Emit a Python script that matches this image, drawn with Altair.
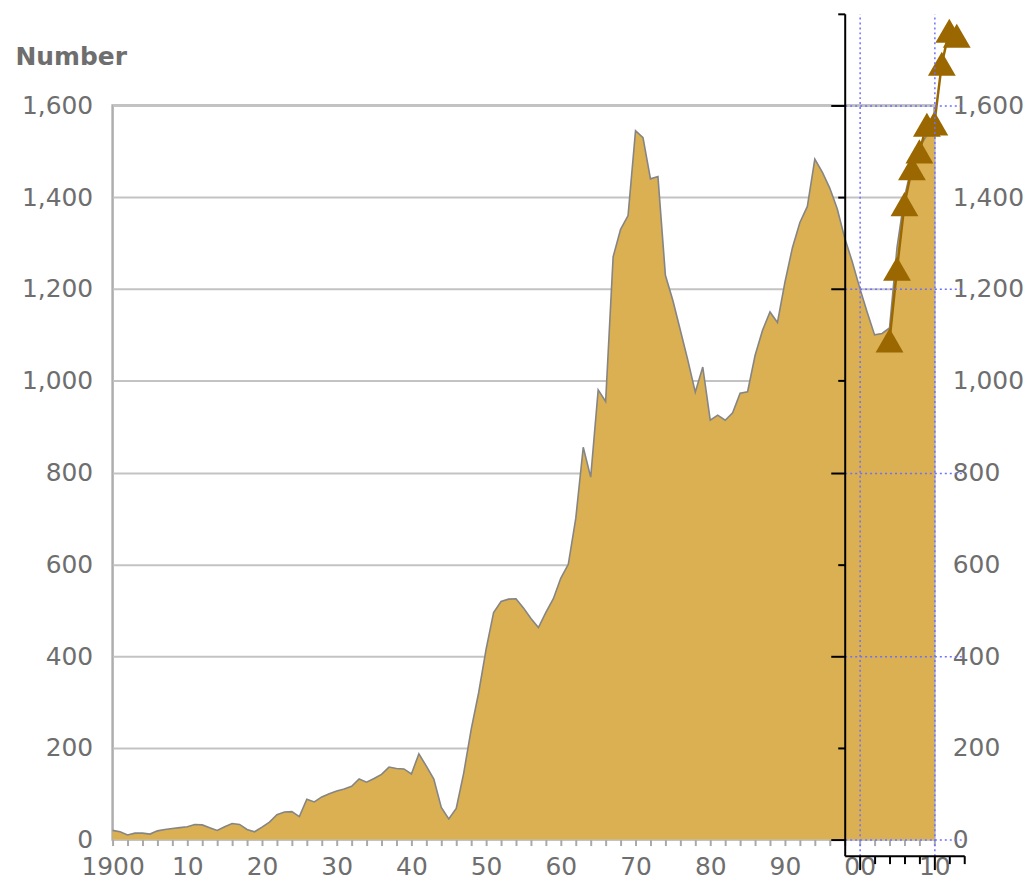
import altair as alt
import pandas as pd

# ---- data ----
years = list(range(1900, 2011))
counts = [
    20, 17, 10, 14, 14, 12, 19, 22, 24, 26,          # 1900-1909
    28, 33, 32, 26, 20, 28, 35, 33, 22, 17,          # 1910-1919
    27, 38, 54, 60, 61, 50, 88, 82, 93, 100,         # 1920-1929
    106, 110, 116, 132, 125, 133, 142, 158, 155, 154,  # 1930-1939
    143, 187, 160, 132, 70, 45, 68, 145, 240, 320,   # 1940-1949
    415, 495, 519, 524, 525, 505, 482, 462, 495, 525,  # 1950-1959
    570, 600, 700, 855, 790, 980, 955, 1270, 1330, 1360,  # 1960-1969
    1545, 1530, 1440, 1445, 1230, 1175, 1110, 1045, 975, 1030,  # 1970-1979
    914, 925, 914, 930, 973, 976, 1055, 1110, 1150, 1127,  # 1980-1989
    1215, 1290, 1345, 1380, 1483, 1455, 1420, 1375, 1311, 1260,  # 1990-1999
    1203, 1150, 1100, 1103, 1115, 1290, 1400, 1470, 1510, 1535,  # 2000-2009
    1540,                                            # 2010
]
tri_years = [2004, 2005, 2006, 2007, 2008, 2009, 2010, 2011, 2012, 2013]
tri_counts = [1088, 1244, 1385, 1463, 1500, 1558, 1561, 1691, 1763, 1752]

y_ticks = list(range(0, 1601, 200))
x_ticks = list(range(1900, 2011, 2))
ov_x_ticks = list(range(2000, 2015, 2))
ov_x_grid = [2000, 2010]
ov_y_ticks = list(range(0, 1801, 200))

# ---- layout ----
W, H = 825, 737
px_year = W / (2010 - 1900)
px_unit = H / 1600
ov_x_dom = [1998, 2014]
ov_y_dom = [-35, 1800]
ov_x_rng = [(v - 1900) * px_year for v in ov_x_dom]
ov_y_rng = [H - v * px_unit for v in ov_y_dom]

FONT = "DejaVu Sans"
GRAY = "#6e6e6e"
GOLD = "#dab052"
BROWN = "#9a6700"
GRID_BLUE = "#6f6fff"
FS = 25

main_df = pd.DataFrame({"year": years, "count": counts})
tri_df = pd.DataFrame({"year": tri_years, "count": tri_counts})

label_expr = ("datum.value % 10 == 0 ? (datum.value == 1900 ? '1900' : "
              "format(datum.value % 100, '02d')) : ''")

x_main = alt.X(
    "year:Q",
    scale=alt.Scale(domain=[1900, 2010], nice=False, zero=False),
    axis=alt.Axis(
        orient="bottom", values=x_ticks, labelExpr=label_expr, title=None,
        grid=False, domain=False, tickColor="#a9a9a9", tickWidth=2, tickSize=6,
        labelPadding=9, labelFont=FONT, labelFontSize=FS, labelColor=GRAY,
        labelOverlap=False, labelFlush=False,
    ),
)
y_main = alt.Y(
    "count:Q",
    scale=alt.Scale(domain=[0, 1600], nice=False, zero=False),
    axis=alt.Axis(
        orient="left", values=y_ticks, format=",d", title="Number",
        titleAngle=0, titleAlign="left", titleBaseline="alphabetic",
        titleX=-98, titleY=-41, titleFont=FONT, titleFontSize=FS,
        titleFontWeight="bold", titleColor=GRAY,
        grid=True, gridColor="#c3c3c3", gridWidth=2, domain=False, ticks=False,
        labelPadding=20, labelFont=FONT, labelFontSize=FS, labelColor=GRAY,
    ),
)

area = alt.Chart(main_df).mark_area(color=GOLD, opacity=1).encode(x=x_main, y=y_main)

outline = alt.Chart(main_df).mark_line(color="#858585", strokeWidth=1.6).encode(
    x=alt.X("year:Q", scale=alt.Scale(domain=[1900, 2010], nice=False, zero=False), axis=None),
    y=alt.Y(
        "count:Q",
        scale=alt.Scale(domain=[0, 1600], nice=False, zero=False),
        axis=alt.Axis(
            orient="right", values=y_ticks, format=",d", title=None, grid=False,
            domain=False, ticks=False, labelPadding=18, labelFont=FONT,
            labelFontSize=FS, labelColor=GRAY,
        ),
    ),
)

ov_x_scale = alt.Scale(domain=ov_x_dom, range=ov_x_rng, nice=False, zero=False)
ov_y_scale = alt.Scale(domain=ov_y_dom, range=ov_y_rng, nice=False, zero=False)

# inset axes: black domain + ticks at the bottom / left of the inset
xo = alt.X(
    "year:Q",
    scale=ov_x_scale,
    axis=alt.Axis(
        orient="bottom", offset=ov_y_rng[0] - H, values=ov_x_ticks, labels=False,
        title=None, domainColor="black", domainWidth=2, tickColor="black",
        tickWidth=2,
        tickSize={"condition": {"test": "datum.value % 10 == 0", "value": 14}, "value": 8},
        grid=False, zindex=1,
    ),
)
yo = alt.Y(
    "count:Q",
    scale=ov_y_scale,
    axis=alt.Axis(
        orient="left", offset=-ov_x_rng[0], values=ov_y_ticks, labels=False,
        title=None, domainColor="black", domainWidth=2, tickColor="black",
        tickWidth=2,
        tickSize={"condition": {"test": "datum.value % 400 == 0", "value": 14}, "value": 7},
        grid=True, gridColor=GRID_BLUE, gridDash=[2, 3], gridWidth=1.5,
        gridOpacity={"condition": {"test": "datum.value % 400 == 0", "value": 1}, "value": 0},
        zindex=1,
    ),
)
# vertical dotted grid of the inset (top-oriented axis moved down onto the inset baseline)
xo_grid = alt.X(
    "year:Q",
    scale=ov_x_scale,
    axis=alt.Axis(
        orient="top", offset=-ov_y_rng[0], values=ov_x_grid, labels=False,
        ticks=False, domain=False, title=None,
        grid=True, gridColor=GRID_BLUE, gridDash=[2, 3], gridWidth=1.5, zindex=1,
    ),
)
yo_plain = alt.Y("count:Q", scale=ov_y_scale, axis=None)

line_layer = alt.Chart(tri_df).mark_line(color=BROWN, strokeWidth=2.5).encode(
    x=xo_grid, y=yo_plain
)
point_layer = alt.Chart(tri_df).mark_point(
    shape="triangle-up", filled=True, size=780, color=BROWN, opacity=1
).encode(x=xo, y=yo)

chart = (
    alt.layer(area, outline, line_layer, point_layer)
    .resolve_scale(x="independent", y="independent")
    .resolve_axis(x="independent", y="independent")
    .properties(width=W, height=H, padding={"left": 7, "top": 3, "right": 0, "bottom": 0})
    .configure_view(stroke="#aeaeae", strokeWidth=2.5)
)

chart.save("out.html", embed_options={"renderer": "svg", "actions": False})
